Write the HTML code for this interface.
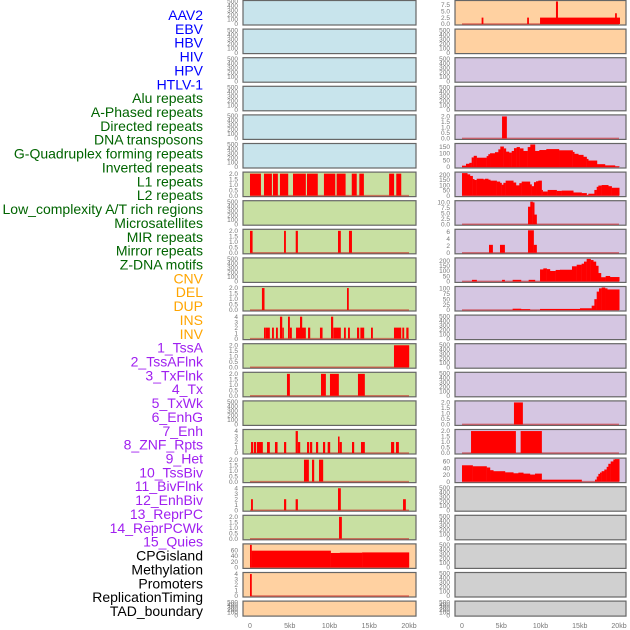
<!DOCTYPE html>
<html><head><meta charset="utf-8"><style>
html,body{margin:0;padding:0;background:#fff;width:630px;height:630px;overflow:hidden}
svg{display:block;font-family:"Liberation Sans",sans-serif}
</style></head><body>
<svg id="chart" width="630" height="630" viewBox="0 0 630 630"></svg>
<script>
// ---------- labels ----------
const trackLabels = ["AAV2","EBV","HBV","HIV","HPV","HTLV-1","Alu repeats","A-Phased repeats","Directed repeats","DNA transposons","G-Quadruplex forming repeats","Inverted repeats","L1 repeats","L2 repeats","Low_complexity A/T rich regions","Microsatellites","MIR repeats","Mirror repeats","Z-DNA motifs","CNV","DEL","DUP","INS","INV","1_TssA","2_TssAFlnk","3_TxFlnk","4_Tx","5_TxWk","6_EnhG","7_Enh","8_ZNF_Rpts","9_Het","10_TssBiv","11_BivFlnk","12_EnhBiv","13_ReprPC","14_ReprPCWk","15_Quies","CPGisland","Methylation","Promoters","ReplicationTiming","TAD_boundary"];
const labelGroupSizes = [6,13,5,15,5];
const labelGroupColors = ["#0000ff","#006400","#ffa500","#a020f0","#000000"];
const xTickLabels = ["0","5kb","10kb","15kb","20kb"];
const xTickValues = [0,5,10,15,20];
const emptyTicks = [0,100,200,300,400,500];

// ---------- left column data: segments [startKb, endKb, value] ----------
const L06 = [[0,1.35,2],[1.76,2.73,2],[2.89,3.48,2],[3.77,4.78,2],[5.41,7.0,2],[7.17,8.5,2],[9.3,10.7,2],[10.9,12.0,2],[12.8,13.4,2],[13.75,14.3,2],[17.5,18.1,2],[18.4,19.0,2]];
const L08 = [[0,0.3,2],[4.28,4.49,2],[5.75,6.0,2],[11.07,11.4,2],[12.45,12.8,2]];
const L10 = [[1.5,1.8,2],[12.2,12.4,2]];
const L11 = [[1.76,1.97,2],[2.01,2.47,2],[2.77,2.98,2],[3.27,3.48,2],[3.77,4.03,4],[4.07,4.23,2],[4.78,4.99,4],[5.03,5.24,2],[5.79,7.0,2],[6.29,6.54,4],[7.3,7.55,2],[8.8,9.1,2],[10.19,10.44,4],[10.48,11.4,2],[11.82,12.03,2],[12.33,12.54,2],[13.46,13.71,2],[13.88,14.34,2],[15.22,15.43,2],[18.11,19.0,2],[19.16,19.37,2],[19.66,19.92,2]];
const L12 = [[18.11,20.0,2]];
const L13 = [[4.65,4.99,2],[8.93,9.52,2],[10.06,11.15,2],[13.58,14.42,2]];
const L15 = [[0.13,0.38,2],[0.5,0.75,2],[0.88,1.59,2],[2.14,2.47,2],[3.14,3.44,2],[4.28,4.53,2],[5.74,6.0,4],[6.04,6.29,2],[7.17,7.42,2],[7.55,7.8,2],[8.3,8.55,2],[9.18,9.43,2],[9.77,10.06,2],[11.07,11.24,3],[11.28,11.53,2],[12.83,13.08,2],[13.96,14.42,2],[17.74,18.11,2],[18.36,18.7,2]];
const L16 = [[6.79,7.38,2],[7.8,8.05,2],[8.68,9.18,2]];
const L17 = [[0.13,0.34,2],[4.28,4.53,2],[5.74,6.0,2],[11.07,11.4,4],[19.25,19.58,2]];
const L18 = [[11.2,11.53,2]];
const L19 = [[0,0.2,78],[0.2,10.15,58],[10.15,11.3,50],[11.3,14.1,51],[14.1,20,52]];
const L20 = [[0,0.2,4]];

// ---------- right column data ----------
const R00 = [[2.5,2.7,2.5],[8.3,8.5,2.5],[9.94,20.1,2.5],[11.97,12.2,9],[19.5,19.7,4.2]];
const R04 = [[5.1,5.69,2]];
const R05_breaks = [0,0.51,0.93,1.23,1.49,1.87,3.14,3.35,3.57,4.2,4.63,4.88,5.31,5.6,5.99,6.33,6.62,6.96,7.35,7.81,8.37,8.7,9.3,9.85,10.74,12.36,14.1,14.31,14.82,15.46,15.88,16.09,17.2,18.22,19.49,20.04];
const R05_vals = [10,24,31,71,83,69,81,95,102,110,131,152,138,114,107,119,140,148,138,119,148,167,119,126,133,124,112,98,90,76,60,48,21,12,5];
const R06_breaks = [0,0.68,1.02,1.36,1.57,1.87,2.72,2.93,3.35,3.61,4.42,4.84,5.05,5.27,5.56,6.54,6.88,7.3,7.6,8.66,8.87,9.17,9.43,9.72,10.15,10.28,10.91,12.06,12.7,14.18,15.24,15.88,16.09,16.86,17.16,17.37,17.79,18.64,19.07,20.04];
const R06_vals = [215,203,188,158,149,161,155,161,152,143,134,122,104,122,143,125,98,119,134,107,90,128,137,143,54,39,54,45,48,30,24,6,18,54,84,96,101,90,75];
const R07 = [[8.41,8.7,8],[8.7,9.0,10.3],[9.0,9.21,10],[9.21,9.51,4.4]];
const R08 = [[3.44,3.91,2.3],[4.84,5.44,2.3],[8.41,9.13,6.5],[9.13,9.51,2.3]];
const R09_breaks = [1.27,1.87,5.1,5.44,6.45,7.52,8.49,9.3,9.94,10.36,10.79,11.21,11.93,12.48,14.01,14.61,15.24,15.54,15.88,16.39,16.73,17.07,17.37,17.71,18.3,18.85,20.04];
const R09_vals = [15,0,15,0,15,0,15,0,115,125,118,100,110,112,145,160,170,190,216,205,190,150,80,40,52,42];
const R10_breaks = [6.45,7.52,8.66,9.94,15.03,16.52,16.86,17.16,17.45,17.79,18.22,18.51,20.04];
const R10_vals = [6,4,0,5,8,20,50,85,100,104,100,95];
const R14 = [[6.62,7.73,2]];
const R15 = [[1.15,6.84,2],[7.47,10.15,2]];
const R16_breaks = [0,1.36,3.14,3.57,3.99,5.48,6.54,7.18,7.81,8.66,9.3,10.15,15.24,16.94,17.16,17.37,17.58,17.79,18.13,18.43,18.64,18.94,19.28,19.49,20.04];
const R16_vals = [48.6,45.7,42,34,31,27.6,24.8,26.7,23.8,21,23.8,5.7,0,6,15,23,27,31,36,44,53,60,66,68];

function stepsToSegs(b,v){const s=[];for(let i=0;i<v.length;i++){if(v[i]>0)s.push([b[i],b[i+1],v[i]]);}return s;}

const C={blue:"#c8e4ec",green:"#c8e0a2",orange:"#ffd1a1",purple:"#d5c6e2",gray:"#d0d0d0"};
// panel configs: row, bg, ymax, ticks, segments
const leftPanels=[
 {r:0,bg:C.blue},{r:1,bg:C.blue},{r:2,bg:C.blue},{r:3,bg:C.blue},{r:4,bg:C.blue},{r:5,bg:C.blue},
 {r:6,bg:C.green,ymax:2.05,t:[0,0.5,1,1.5,2],tf:1,s:L06},
 {r:7,bg:C.green},
 {r:8,bg:C.green,ymax:2.05,t:[0,0.5,1,1.5,2],tf:1,s:L08},
 {r:9,bg:C.green},
 {r:10,bg:C.green,ymax:2.05,t:[0,0.5,1,1.5,2],tf:1,s:L10},
 {r:11,bg:C.green,ymax:4.1,t:[0,1,2,3,4],tf:0,s:L11},
 {r:12,bg:C.green,ymax:2.05,t:[0,0.5,1,1.5,2],tf:1,s:L12},
 {r:13,bg:C.green,ymax:2.05,t:[0,0.5,1,1.5,2],tf:1,s:L13},
 {r:14,bg:C.green},
 {r:15,bg:C.green,ymax:4.1,t:[0,1,2,3,4],tf:0,s:L15},
 {r:16,bg:C.green,ymax:2.05,t:[0,0.5,1,1.5,2],tf:1,s:L16},
 {r:17,bg:C.green,ymax:4.1,t:[0,1,2,3,4],tf:0,s:L17},
 {r:18,bg:C.green,ymax:2.05,t:[0,0.5,1,1.5,2],tf:1,s:L18},
 {r:19,bg:C.orange,ymax:78,t:[0,20,40,60],tf:0,s:L19},
 {r:20,bg:C.orange,ymax:4.1,t:[0,1,2,3,4],tf:0,s:L20},
 {r:21,bg:C.orange}
];
const rightPanels=[
 {r:0,bg:C.orange,ymax:8.8,t:[0,2.5,5,7.5],tf:1,s:R00},
 {r:1,bg:C.orange},{r:2,bg:C.purple},{r:3,bg:C.purple},
 {r:4,bg:C.purple,ymax:2.05,t:[0,0.5,1,1.5,2],tf:1,s:R04},
 {r:5,bg:C.purple,ymax:167,t:[0,50,100,150],tf:0,s:stepsToSegs(R05_breaks,R05_vals)},
 {r:6,bg:C.purple,ymax:215,t:[0,50,100,150,200],tf:0,s:stepsToSegs(R06_breaks,R06_vals)},
 {r:7,bg:C.purple,ymax:10.3,t:[0,2.5,5,7.5,10],tf:1,s:R07},
 {r:8,bg:C.purple,ymax:6.5,t:[0,2,4,6],tf:0,s:R08},
 {r:9,bg:C.purple,ymax:216,t:[0,50,100,150,200],tf:0,s:stepsToSegs(R09_breaks,R09_vals)},
 {r:10,bg:C.purple,ymax:104,t:[0,25,50,75,100],tf:0,s:stepsToSegs(R10_breaks,R10_vals)},
 {r:11,bg:C.purple},{r:12,bg:C.purple},{r:13,bg:C.purple},
 {r:14,bg:C.purple,ymax:2.05,t:[0,0.5,1,1.5,2],tf:1,s:R14},
 {r:15,bg:C.purple,ymax:2.05,t:[0,0.5,1,1.5,2],tf:1,s:R15},
 {r:16,bg:C.purple,ymax:67,t:[0,20,40,60],tf:0,s:stepsToSegs(R16_breaks,R16_vals)},
 {r:17,bg:C.gray},{r:18,bg:C.gray},{r:19,bg:C.gray},{r:20,bg:C.gray},{r:21,bg:C.gray}
];

const NS="http://www.w3.org/2000/svg";
const svg=document.getElementById('chart');
function mk(tag,attrs,parent){const e=document.createElementNS(NS,tag);for(const k in attrs)e.setAttribute(k,attrs[k]);(parent||svg).appendChild(e);return e;}

// labels
let li=0;
labelGroupSizes.forEach((n,g)=>{for(let k=0;k<n;k++){
 const t=mk('text',{x:203,y:15+li*13.86+5,'text-anchor':'end','font-size':14,fill:labelGroupColors[g]});
 t.textContent=trackLabels[li];
 
 
 li++;}});

const cols=[{x0:243,x1:416,d0:250,d1:409,tx:238,panels:leftPanels,name:'left'},{x0:455,x1:626,d0:462,d1:619,tx:450,panels:rightPanels,name:'right'}];
function rowTop(r){return 0.5+28.6*r;}
function rowH(r){return r===21?15:24.5;}

cols.forEach(col=>{
 const xs=kb=>col.d0+(kb/20)*(col.d1-col.d0);
 col.panels.forEach(p=>{
  const top=rowTop(p.r),h=rowH(p.r),bot=top+h;
  const g=mk('g',{});
  
  
  const rc=mk('rect',{x:col.x0,y:top,width:col.x1-col.x0,height:h,fill:p.bg,stroke:'#666',"stroke-width":1.2},g);
  
  
  const ymax=p.ymax||500, ticks=p.t||emptyTicks;
  const ys=v=>bot-1-(Math.min(v,ymax)/ymax)*(h-2);
  ticks.forEach(v=>{
   const t=mk('text',{x:col.tx,y:ys(v)+2.2,'text-anchor':'end','font-size':6.5,fill:'#777'},g);
   t.textContent=p.tf?v.toFixed(1):String(v);
   
   
  });
  if(p.s){
   const bl=mk('line',{x1:xs(0),x2:xs(20),y1:ys(0),y2:ys(0),stroke:'rgba(200,30,30,0.55)','stroke-width':1.5},g);
   
   
   p.s.forEach(sg=>{
    const x=xs(sg[0]),w=Math.max(xs(sg[1])-x,0.8),y=ys(sg[2]);
    const b=mk('rect',{x:x,y:y,width:w+0.2,height:ys(0)-y,fill:'#ff0000'},g);
    
    
   });
  }
 });
 xTickValues.forEach((v,i)=>{
  const t=mk('text',{x:xs(v),y:628,'text-anchor':'middle','font-size':7,fill:'#777'});
  t.textContent=xTickLabels[i];
  
  
 });
});
</script>
</body></html>
